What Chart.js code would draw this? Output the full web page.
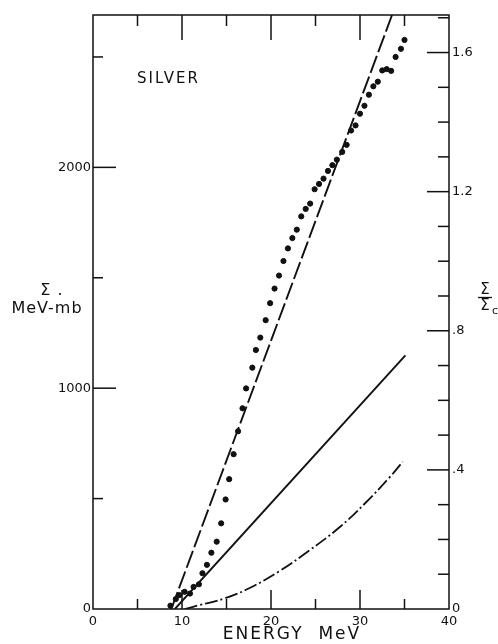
<!DOCTYPE html>
<html>
<head>
<meta charset="utf-8">
<script src="https://cdn.jsdelivr.net/npm/chart.js@4.4.1/dist/chart.umd.min.js"></script>
<style>
  body { margin: 0; background: #fff; }
  #wrap { width: 498px; height: 644px; }
</style>
</head>
<body>
<div id="wrap"><canvas id="silverChart"></canvas></div>
<script>
// measured points, Sigma in MeV-mb vs energy in MeV
var energy = [8.7, 9.3, 9.7, 10.3, 10.9, 11.3, 11.9, 12.3, 12.8, 13.3, 13.9, 14.4, 14.9, 15.3, 15.8,
  16.3, 16.8, 17.2, 17.9, 18.3, 18.8, 19.4, 19.9, 20.4, 20.9, 21.4, 21.9, 22.4, 22.9, 23.4, 23.9,
  24.4, 24.9, 25.4, 25.9, 26.4, 26.9, 27.4, 28.0, 28.5, 29.0, 29.5, 30.0, 30.5, 31.0, 31.5, 32.0,
  32.5, 33.0, 33.5, 34.0, 34.6, 35.0];
var sigma = [15, 45, 63, 78, 70, 100, 112, 162, 200, 255, 305, 388, 496, 588, 701,
  805, 909, 999, 1093, 1173, 1229, 1308, 1385, 1451, 1510, 1576, 1633, 1680, 1718, 1778, 1812,
  1836, 1901, 1925, 1949, 1984, 2010, 2035, 2070, 2102, 2167, 2190, 2243, 2279, 2329, 2367, 2388,
  2439, 2445, 2437, 2500, 2537, 2577];

// long-dash curve
var dashE = [8.8, 33.6];
var dashS = [0, 2690];
// solid curve
var solidE = [9.2, 35.1];
var solidS = [0, 1149];
// dash-dot curve
var dotDashE = [10.3, 12.0, 14.8, 17.6, 20.9, 24.3, 27.7, 30.6, 33.3, 34.8];
var dotDashS = [0, 18, 48, 95, 170, 265, 370, 480, 595, 667];

var xTicks = [0, 10, 20, 30, 40];
var yTicks = [0, 1000, 2000];
var y2Ticks = [0, 0.4, 0.8, 1.2, 1.6];
var y2Labels = ['0', '.4', '.8', '1.2', '1.6'];
var sigmaMax = 2690;
var sigmaC = 1575; // Sigma_c, right axis = Sigma / Sigma_c

function pts(xs, ys) {
  return xs.map(function (v, i) { return { x: v, y: ys[i] }; });
}
function fixTicks(list) {
  return function (s) { s.ticks = list.map(function (v) { return { value: v }; }); };
}

var ink = '#111';
var font = 'DejaVu Sans';

var framePlugin = {
  id: 'frame',
  afterDraw: function (chart) {
    var ctx = chart.ctx, a = chart.chartArea;
    var x = chart.scales.x, y = chart.scales.y, y2 = chart.scales.y2;
    function seg(x1, y1, x2, y2_) {
      ctx.beginPath(); ctx.moveTo(x1, y1); ctx.lineTo(x2, y2_); ctx.stroke();
    }
    ctx.save();
    ctx.strokeStyle = ink;
    ctx.lineWidth = 1.5;
    ctx.strokeRect(a.left, a.top, a.right - a.left, a.bottom - a.top);

    // x ticks, bottom and top, pointing in
    for (var v = 5; v < 40; v += 5) {
      var px = x.getPixelForValue(v);
      var big = v % 10 === 0;
      seg(px, a.bottom, px, a.bottom - (big ? 19 : 10));
      seg(px, a.top, px, a.top + (big ? 25 : 11));
    }
    // left ticks
    for (var s = 500; s < y.max; s += 500) {
      var py = y.getPixelForValue(s);
      seg(a.left, py, a.left + (s % 1000 === 0 ? 23 : 10), py);
    }
    // right ticks
    for (var i = 1; i / 10 < y2.max; i++) {
      var ry = y2.getPixelForValue(i / 10);
      seg(a.right, ry, a.right - (i % 4 === 0 ? 22 : 11), ry);
    }

    ctx.fillStyle = ink;
    ctx.textBaseline = 'middle';
    ctx.letterSpacing = '2px';
    ctx.font = '15px "' + font + '"';
    ctx.textAlign = 'left';
    ctx.fillText('SILVER', 137, 79);

    ctx.font = '17px "' + font + '"';
    ctx.textAlign = 'center';
    ctx.fillText('ENERGY  MeV', 292, 635);

    ctx.letterSpacing = '1px';
    ctx.font = '16px "' + font + '"';
    ctx.fillText('MeV-mb', 47, 309);
    ctx.fillText('Σ .', 52, 291);

    // right axis title: Sigma over Sigma_c
    ctx.letterSpacing = '0px';
    ctx.font = '15px "' + font + '"';
    ctx.fillText('Σ', 485, 290);
    ctx.lineWidth = 1.3;
    seg(478, 297.5, 492, 297.5);
    ctx.fillText('Σ', 485, 306);
    ctx.font = '11px "' + font + '"';
    ctx.fillText('c', 495, 311);
    ctx.restore();
  }
};

var tickFont = { family: font, size: 13 };
var noGrid = { display: false, drawTicks: false, tickLength: 0 };

var ctx = document.getElementById('silverChart').getContext('2d');
var myChart = new Chart(ctx, {
  type: 'scatter',
  data: {
    datasets: [
      {
        label: 'measured',
        data: pts(energy, sigma),
        backgroundColor: ink,
        borderColor: ink,
        pointRadius: 2.6,
        pointHoverRadius: 2.6,
        showLine: false
      },
      {
        label: 'long dash',
        data: pts(dashE, dashS),
        showLine: true,
        borderColor: ink,
        borderWidth: 1.9,
        borderDash: [18, 4],
        pointRadius: 0
      },
      {
        label: 'solid',
        data: pts(solidE, solidS),
        showLine: true,
        borderColor: ink,
        borderWidth: 1.9,
        pointRadius: 0
      },
      {
        label: 'dash dot',
        data: pts(dotDashE, dotDashS),
        showLine: true,
        borderColor: ink,
        borderWidth: 1.8,
        borderDash: [13, 3, 2, 3],
        tension: 0.4,
        pointRadius: 0
      }
    ]
  },
  options: {
    responsive: true,
    maintainAspectRatio: false,
    animation: false,
    layout: { padding: { top: 15, left: 0, right: 0, bottom: 0 } },
    plugins: { legend: { display: false }, tooltip: { enabled: false } },
    scales: {
      x: {
        type: 'linear',
        min: 0,
        max: 40,
        afterFit: function (s) { s.height = 35; },
        afterBuildTicks: fixTicks(xTicks),
        grid: noGrid,
        border: { display: false },
        ticks: { color: ink, font: tickFont, padding: 5, maxRotation: 0, autoSkip: false }
      },
      y: {
        type: 'linear',
        position: 'left',
        min: 0,
        max: sigmaMax,
        afterFit: function (s) { s.width = 93; },
        afterBuildTicks: fixTicks(yTicks),
        grid: noGrid,
        border: { display: false },
        ticks: {
          color: ink, font: tickFont, padding: 2, autoSkip: false,
          callback: function (v) { return String(v); }
        }
      },
      y2: {
        type: 'linear',
        position: 'right',
        min: 0,
        max: sigmaMax / sigmaC,
        afterFit: function (s) { s.width = 49; },
        afterBuildTicks: fixTicks(y2Ticks),
        grid: noGrid,
        border: { display: false },
        ticks: {
          color: ink, font: tickFont, padding: 3, autoSkip: false,
          callback: function (v, idx) { return y2Labels[idx]; }
        }
      }
    }
  },
  plugins: [framePlugin]
});
</script>
</body>
</html>
